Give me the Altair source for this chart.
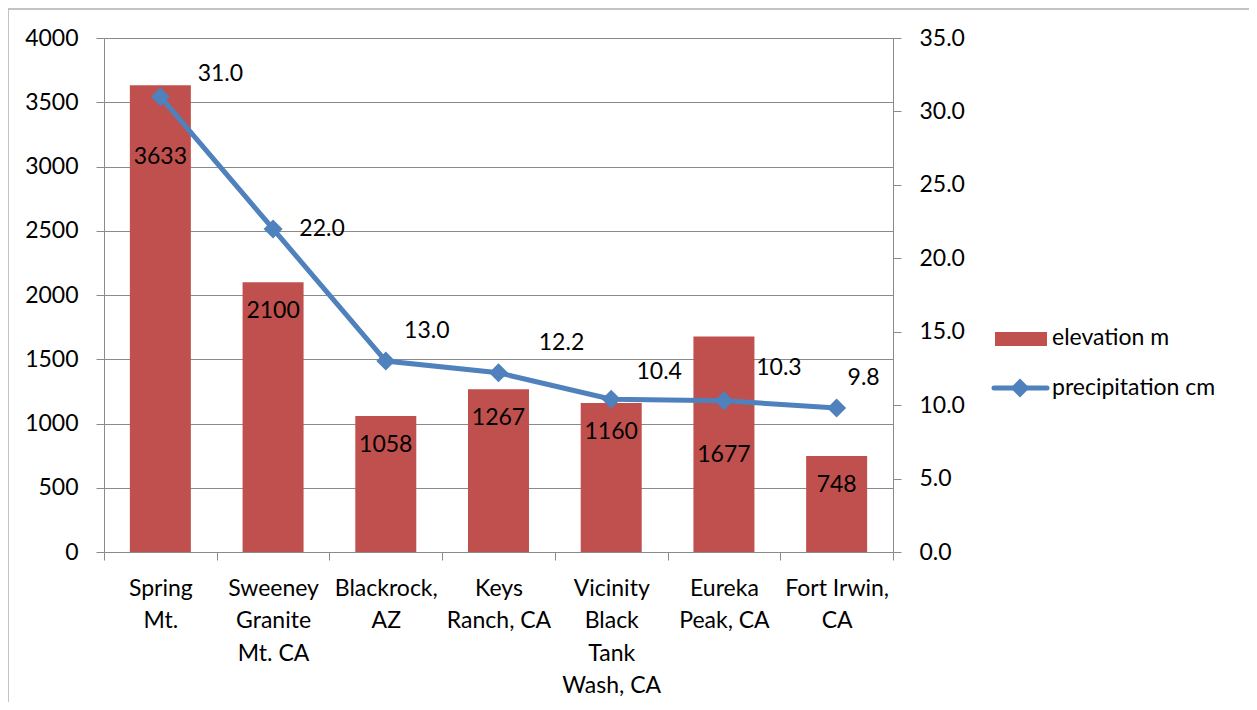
import altair as alt
import pandas as pd

# ---- data ----
sites = ["Spring|Mt.", "Sweeney|Granite|Mt. CA", "Blackrock,|AZ", "Keys|Ranch, CA",
         "Vicinity|Black|Tank|Wash, CA", "Eureka|Peak, CA", "Fort Irwin,|CA"]
elevation_m = [3633, 2100, 1058, 1267, 1160, 1677, 748]
precipitation_cm = [31.0, 22.0, 13.0, 12.2, 10.4, 10.3, 9.8]
series_names = ["elevation m", "precipitation cm"]
left_ticks = [0, 500, 1000, 1500, 2000, 2500, 3000, 3500, 4000]
right_ticks = [0, 5, 10, 15, 20, 25, 30, 35]

df = pd.DataFrame({"site": sites, "elevation": elevation_m, "precip": precipitation_cm})
legend_df = pd.DataFrame({"series": series_names})

# ---- styles ----
FONT = "Lato"
FS = 23
BAR = "#C0504D"
LINE = "#4F81BD"
GRID = "#8a8a8a"
W, H = 789, 514
DIAMOND = 360

# label offsets (style): bar labels below bar top, line labels around points
bar_label_dy = {0: 72, 5: 118}
bar_label_default = 29
line_label_off = {0: (60, -23), 1: (49, 0), 2: (41, -30), 3: (63, -30),
                  4: (48, -27), 5: (55, -33), 6: (27, -30)}

xaxis = alt.Axis(title=None, labelAngle=0, tickBand="extent",
                 labelExpr="isString(datum.value) ? split(datum.value, '|') : ''",
                 labelLineHeight=32.5, labelFontSize=FS, labelFont=FONT,
                 labelColor="black", labelPadding=17, tickSize=8,
                 tickColor=GRID, domainColor=GRID, labelBaseline="top",
                 grid=False)
xenc = alt.X("site:N", sort=sites, scale=alt.Scale(paddingInner=0, paddingOuter=0), axis=xaxis)

yleft = alt.Y("elevation:Q", scale=alt.Scale(domain=[0, 4000], nice=False),
              axis=alt.Axis(title=None, values=left_ticks, format="d", grid=True, gridColor=GRID,
                            tickSize=8, tickColor=GRID, domainColor=GRID,
                            labelFontSize=FS, labelFont=FONT, labelColor="black",
                            labelPadding=18))
yright = alt.Y("precip:Q", scale=alt.Scale(domain=[0, 35], nice=False),
               axis=alt.Axis(title=None, orient="right", values=right_ticks, format=".1f",
                             grid=False, tickSize=8, tickColor=GRID, domainColor=GRID,
                             labelFontSize=FS, labelFont=FONT, labelColor="black",
                             labelPadding=18))

base = alt.Chart(df)

bars = base.mark_bar(color=BAR, size=61).encode(x=xenc, y=yleft)

bar_label_layers = []
for i in range(len(sites)):
    dy = bar_label_dy.get(i, bar_label_default)
    bar_label_layers.append(
        base.transform_filter(alt.datum.site == sites[i]).mark_text(
            font=FONT, fontSize=FS, color="black", baseline="middle", align="center", dy=dy
        ).encode(x=xenc, y=yleft, text=alt.Text("elevation:Q", format="d"))
    )

left_layer = alt.layer(bars, *bar_label_layers)

line = base.mark_line(color=LINE, strokeWidth=5).encode(x=xenc, y=yright)
points = base.mark_point(shape="diamond", filled=True, color=LINE, size=DIAMOND, opacity=1).encode(
    x=xenc, y=yright)
line_label_layers = []
for i in range(len(sites)):
    dx, dy = line_label_off[i]
    line_label_layers.append(
        base.transform_filter(alt.datum.site == sites[i]).mark_text(
            font=FONT, fontSize=FS, color="black", baseline="middle", align="center",
            dx=dx, dy=dy
        ).encode(x=xenc, y=yright, text=alt.Text("precip:Q", format=".1f"))
    )

right_layer = alt.layer(line, points, *line_label_layers)

# ---- legend (manual, Excel style) ----
lg = alt.Chart(legend_df)
leg_rect = lg.transform_filter(alt.datum.series == series_names[0]).mark_rect(color=BAR).encode(
    x=alt.value(891), x2=alt.value(943), y=alt.value(294), y2=alt.value(308))
leg_line = lg.transform_filter(alt.datum.series == series_names[1]).mark_rule(
    color=LINE, strokeWidth=5, strokeCap="round").encode(
    x=alt.value(890), x2=alt.value(943), y=alt.value(350))
leg_pt = lg.transform_filter(alt.datum.series == series_names[1]).mark_point(
    shape="diamond", filled=True, color=LINE, size=DIAMOND, opacity=1).encode(
    x=alt.value(916), y=alt.value(350))
leg_t1 = lg.transform_filter(alt.datum.series == series_names[0]).mark_text(
    font=FONT, fontSize=FS, color="black", align="left", baseline="middle").encode(
    x=alt.value(948), y=alt.value(300), text="series:N")
leg_t2 = lg.transform_filter(alt.datum.series == series_names[1]).mark_text(
    font=FONT, fontSize=FS, color="black", align="left", baseline="middle").encode(
    x=alt.value(948), y=alt.value(350), text="series:N")

border = lg.transform_filter(alt.datum.series == series_names[0]).mark_rect(
    fill="white", fillOpacity=0, stroke="#b0b0b0", strokeWidth=1.5).encode(
    x=alt.value(-96), x2=alt.value(1151), y=alt.value(-29), y2=alt.value(720))

legend_layer = alt.layer(border, leg_rect, leg_line, leg_pt, leg_t1, leg_t2)

chart = alt.layer(left_layer, right_layer, legend_layer).resolve_scale(
    y="independent"
).properties(
    width=W, height=H,
    autosize=alt.AutoSizeParams(type="none"),
    padding={"left": 96, "top": 30, "right": 356, "bottom": 150},
).configure_view(strokeWidth=0, stroke="transparent").configure(background="white")

chart.save("out.html", embed_options={"renderer": "svg", "actions": False})
